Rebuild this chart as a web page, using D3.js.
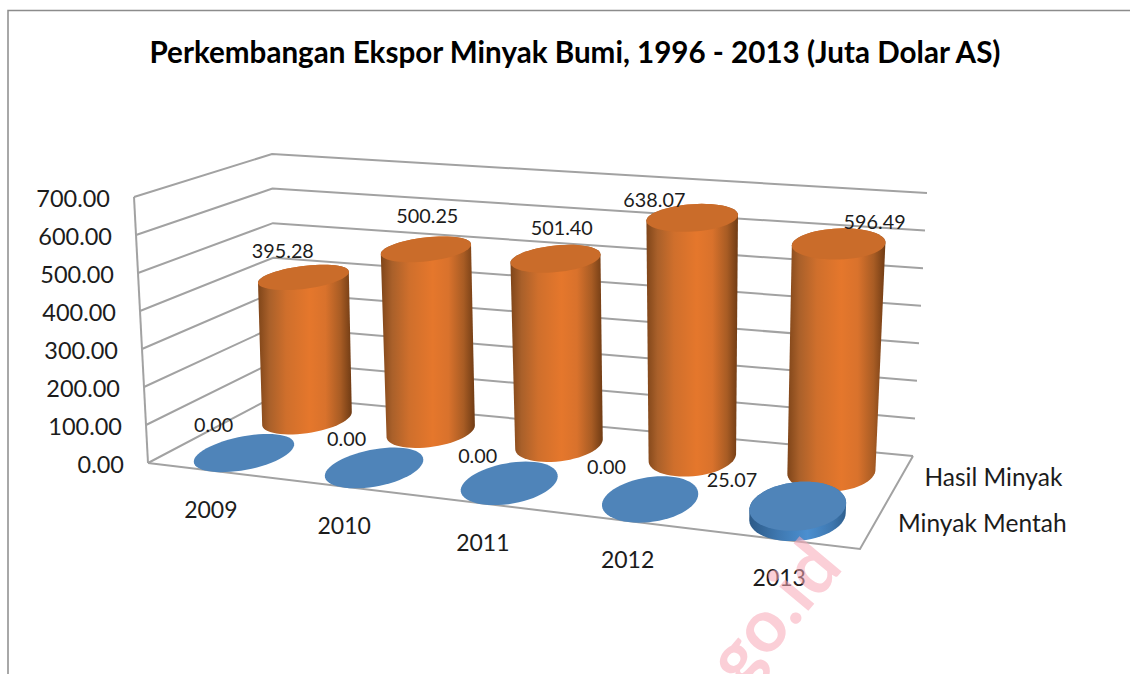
<!DOCTYPE html>
<html><head><meta charset="utf-8">
<script src="https://cdn.jsdelivr.net/npm/d3@7/dist/d3.min.js"></script>
<style>html,body{margin:0;padding:0;background:#fff}svg{display:block}text{font-family:Lato,"Open Sans",sans-serif;fill:#1c1c1c}</style>
</head><body><svg id="c" width="1130" height="674"></svg>
<script>
const titleText = "Perkembangan Ekspor Minyak Bumi, 1996 - 2013 (Juta Dolar AS)";
const categories = ["2009","2010","2011","2012","2013"];
const seriesNames = ["Minyak Mentah","Hasil Minyak"];
const minyakMentah = [0,0,0,0,25.07];
const hasilMinyak = [395.28,500.25,501.40,638.07,596.49];
const valueTicks = [0,100,200,300,400,500,600,700];
// layout: screen corners of the 3D box (floor and the plane at the axis maximum)
const floorCorners = [[148,463],[860,549],[913,456],[275,396]];
const ceilCorners  = [[134,197],[874,262],[927,193],[272,154]];
const persp=0.5;
const blueShape={rU:0.06,rV:0.26,shift:0};
const orangeShape={rU:0.059,rV:0.23,shift:0.004};
const blueNudge=[[-31,-28],[-28,-28],[-32,-27],[-44,-32],[-66,-26]];
const orangeNudge=[[-21,-26],[1,-33],[6,-30],[-38,-18],[36,-22]];

function homography(q){ // unit square -> quad, blended with the plain bilinear map
  const [[x0,y0],[x1,y1],[x2,y2],[x3,y3]]=q;
  const dx1=x1-x2,dx2=x3-x2,sx=x0-x1+x2-x3,dy1=y1-y2,dy2=y3-y2,sy=y0-y1+y2-y3;
  const d=dx1*dy2-dx2*dy1;
  const g=(sx*dy2-dx2*sy)/d,h=(dx1*sy-sx*dy1)/d;
  const a=x1-x0+g*x1,b=x3-x0+h*x3,c=x0,dd=y1-y0+g*y1,e=y3-y0+h*y3,f=y0;
  return (u,v)=>{const w=g*u+h*v+1;
    const hx=(a*u+b*v+c)/w,hy=(dd*u+e*v+f)/w;
    const bx=(1-v)*((1-u)*x0+u*x1)+v*((1-u)*x3+u*x2),by=(1-v)*((1-u)*y0+u*y1)+v*((1-u)*y3+u*y2);
    return [persp*hx+(1-persp)*bx,persp*hy+(1-persp)*by];};
}
const H0=homography(floorCorners),H1=homography(ceilCorners);
const yScale=d3.scaleLinear().domain([0,700]).range([0,1]);
const uScale=d3.scaleBand().domain(categories).range([0,1]);
const vScale=d3.scaleBand().domain(seriesNames).range([0,1]);
const P=(u,v,w)=>{const a=H0(u,v),b=H1(u,v),t=yScale(w);return [a[0]+(b[0]-a[0])*t,a[1]+(b[1]-a[1])*t];};
const uC=c=>uScale(c)+uScale.bandwidth()/2, vC=s=>vScale(s)+vScale.bandwidth()/2;

const svg=d3.select("#c");
const defs=svg.append("defs");
function grad(id,stops){const g=defs.append("linearGradient").attr("id",id);
  stops.forEach(([o,c])=>g.append("stop").attr("offset",o).attr("stop-color",c));}
grad("og",[[0,"#7f4519"],[.12,"#a9602a"],[.3,"#cf6f2c"],[.55,"#e5772c"],[.72,"#d9722c"],[.88,"#a85c24"],[1,"#6f3b14"]]);
grad("bg",[[0,"#2c5a88"],[.3,"#3f78b0"],[.6,"#4b8fd0"],[.85,"#3f78b0"],[1,"#2e5f8e"]]);

// frame
svg.append("path").attr("d",d3.line()([[8,674],[8,10.5],[1130,10.5]])).attr("fill","none").attr("stroke","#8c8c8c").attr("stroke-width",1.5);

// title
svg.append("text").attr("x",575).attr("y",63).attr("text-anchor","middle").attr("font-size",29.6).attr("font-weight",700).style("fill","#000").text(titleText);

// walls
const lineG=d3.line();
const gridC="#a2a2a2";
valueTicks.forEach(w=>{
  svg.append("path").attr("d",lineG([P(0,0,w),P(0,1,w),P(1,1,w)])).attr("fill","none").attr("stroke",gridC).attr("stroke-width",2);
});
svg.append("path").attr("d",lineG([P(0,0,0),P(0,0,700)])).attr("fill","none").attr("stroke",gridC).attr("stroke-width",2);
svg.append("path").attr("d",lineG([P(0,0,0),P(1,0,0),P(1,1,0)])).attr("fill","none").attr("stroke",gridC).attr("stroke-width",2);

// cylinders
function ring(u,v,w,s){return d3.range(0,360,6).map(a=>{const t=a*Math.PI/180;return P(u+s.rU*Math.cos(t),v+s.rV*Math.sin(t),w);});}
function cylinder(cat,ser,val,fill,top,s){
  const u=uC(cat)+s.shift,v=vC(ser),bot=ring(u,v,0,s),tp=ring(u,v,val,s);
  if(val>0){
    svg.append("path").attr("d",lineG(d3.polygonHull(bot.concat(tp)))+"Z").attr("fill",fill);
  }
  svg.append("path").attr("d",lineG(tp)+"Z").attr("fill",top);
}
categories.forEach((c,i)=>cylinder(c,seriesNames[1],hasilMinyak[i],"url(#og)","#ca6c2a",orangeShape));
categories.forEach((c,i)=>cylinder(c,seriesNames[0],minyakMentah[i],"url(#bg)","#4f84b9",blueShape));

// data labels
const fmt=d3.format(".2f");
function label(cat,ser,val,n,s){
  const p=P(uC(cat)+s.shift,vC(ser),val);
  svg.append("text").attr("x",p[0]+n[0]).attr("y",p[1]+n[1]+7).attr("text-anchor","middle").attr("font-size",19.8).text(fmt(val));
}
categories.forEach((c,i)=>label(c,seriesNames[1],hasilMinyak[i],orangeNudge[i],orangeShape));
categories.forEach((c,i)=>label(c,seriesNames[0],minyakMentah[i],blueNudge[i],blueShape));

// axes
valueTicks.forEach(w=>{const p=P(0,0,w);
  svg.append("text").attr("x",p[0]-24).attr("y",p[1]+10).attr("text-anchor","end").attr("font-size",23.5).text(fmt(w));});
categories.forEach(c=>{const p=P(uC(c),0,0);
  svg.append("text").attr("x",p[0]-2).attr("y",p[1]+47).attr("text-anchor","middle").attr("font-size",23).text(c);});
seriesNames.forEach(s=>{const p=P(1,vC(s),0);
  svg.append("text").attr("x",p[0]+24).attr("y",p[1]+8).attr("font-size",24.5).text(s);});

// watermark
svg.append("text").attr("transform","translate(742,690) rotate(-50)").attr("font-size",74).attr("font-weight",700)
  .style("fill","#f9a8b8").attr("opacity",.55).attr("font-family","Liberation Sans").text("go.id");
</script></body></html>
